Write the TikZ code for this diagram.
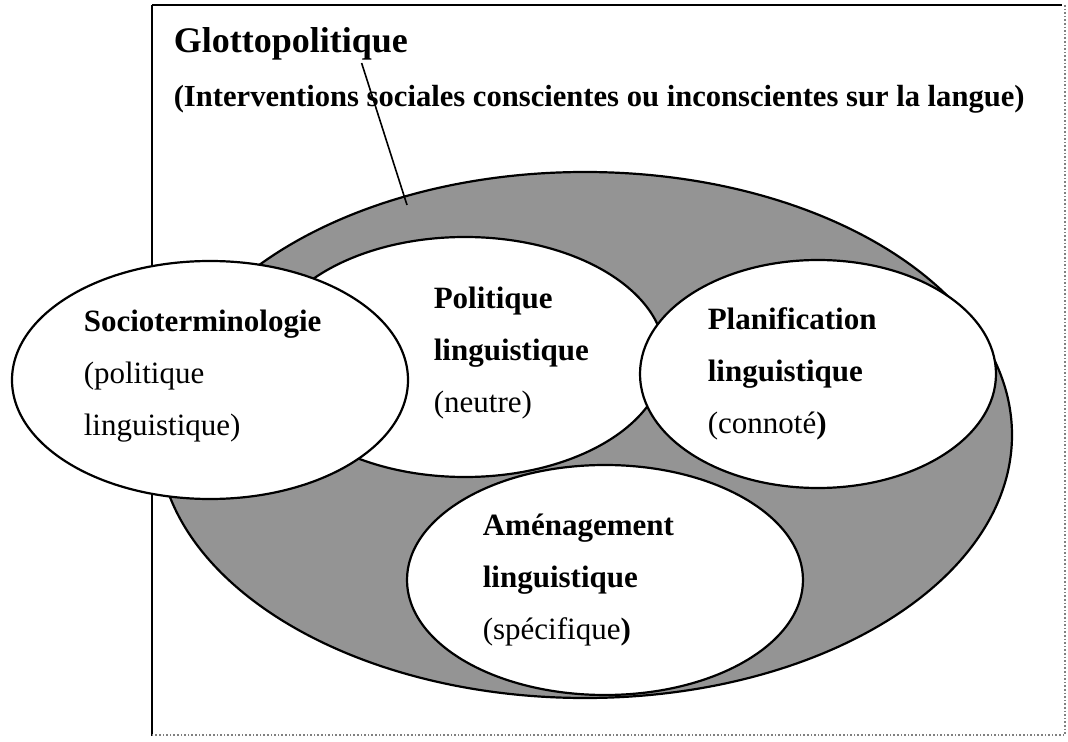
\documentclass[tikz,border=0pt]{standalone}
\usepackage{fontspec}
\setmainfont{Liberation Serif}
\usetikzlibrary{calc}

\tikzset{
	zone/.style={draw=black,fill=white,line width=1.1pt},
	ring/.style={draw=black,fill=black!42,line width=1.1pt},
	txt/.style={anchor=north west,inner sep=0pt,align=left,
		font=\fontsize{15.5}{26}\selectfont}
}

\begin{document}
\begin{tikzpicture}[x=5pt,y=5pt,thick]
\useasboundingbox (0,0) rectangle (106.8,74.1);

% frame
	\draw[line width=1.2pt] (15.2,0.5) -- (15.2,73.6);
	\draw[line width=0.8pt] (15.2,73.6) -- (106.2,73.6);
	\draw[gray,densely dotted] (106.5,73.6) -- (106.5,0.6) -- (15.2,0.6);

% ellipses
	\path[ring] (58.5,30.6) ellipse [x radius=42.7,y radius=26.3];
	\path[zone] (46.5,38.4) ellipse [x radius=20,y radius=12];
	\path[zone] (21,36.1) ellipse [x radius=19.8,y radius=11.9];
	\path[zone] (81.8,36.7) ellipse [x radius=17.8,y radius=11.4];
	\path[zone] (60.5,16.1) ellipse [x radius=19.8,y radius=11.5];

	\node[anchor=base west,inner sep=0pt,font=\fontsize{18}{22}\selectfont\bfseries]
		(glotto) at (17.3,68.8) {Glottopolitique};
	\node[anchor=base west,inner sep=0pt,font=\fontsize{15.3}{19}\selectfont\bfseries]
		(interv) at (17.3,63.4)
		{(Interventions sociales conscientes ou inconscientes sur la langue)};

	\node[txt] (socio) at (8.3,43.2)
		{\textbf{Socioterminologie}\\(politique\\linguistique)};
	\node[txt] (polit) at (43.3,45.5)
		{\textbf{Politique}\\\textbf{linguistique}\\(neutre)};
	\node[txt] (planif) at (70.7,43.4)
		{\textbf{Planification}\\\textbf{linguistique}\\(connoté\textbf{)}};
	\node[txt] (amenag) at (48.2,22.8)
		{\textbf{Aménagement}\\\textbf{linguistique}\\(spécifique\textbf{)}};

	\coordinate (pin) at (40.7,53.6);
	\draw[line width=0.8pt] ($(glotto.base east)+(-4.7,-1)$) -- (pin);
\end{tikzpicture}
\end{document}
